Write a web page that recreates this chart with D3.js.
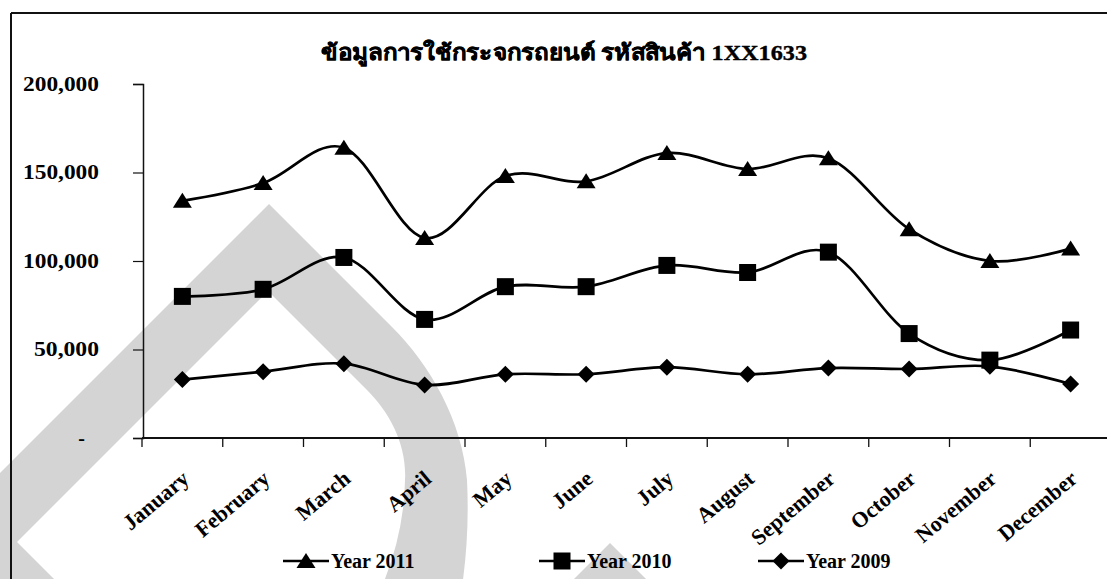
<!DOCTYPE html>
<html>
<head>
<meta charset="utf-8">
<script src="https://cdn.jsdelivr.net/npm/d3@7"></script>
<style>
  html, body { margin: 0; padding: 0; background: #fff; }
  svg { display: block; }
  text { font-family: "Liberation Serif", "Times New Roman", serif; font-weight: bold; fill: #000; }
</style>
</head>
<body>
<svg id="chart" width="1107" height="579"></svg>
<script>
// Monthly usage of car glass, product code 1XX1633
const months = ["January", "February", "March", "April", "May", "June",
                "July", "August", "September", "October", "November", "December"];
const year2011 = [134000, 144000, 164000, 113000, 148000, 145000, 161000, 152000, 158000, 118000, 100000, 107000];
const year2010 = [80000, 84000, 102000, 67000, 85500, 85500, 97500, 93500, 105000, 59000, 44000, 61000];
const year2009 = [33000, 37500, 42000, 30000, 36000, 36000, 40000, 36000, 39500, 39000, 40500, 30500];
const yTicks = [0, 50000, 100000, 150000, 200000];
const seriesNames = ["Year 2011", "Year 2010", "Year 2009"];
const titleText = "ข้อมูลการใช้กระจกรถยนต์ รหัสสินค้า 1XX1633";

const svg = d3.select("#chart");
const W = 1107, H = 579;

// light grey emblem in the background
const bg = svg.append("g").attr("fill", "#d4d4d4");
bg.append("path").attr("d",
  "M -60 533 L 269 204 L 392 327 C 430 365 462 420 467 480 Q 470 540 460 600 L 376 600 " +
  "Q 404 540 405 480 C 407 445 390 413 367 390 L 268 291 L 17 542 L 75 600 L -60 600 Z");
bg.append("path").attr("d", "M 610 543 L 650 583 L 570 583 Z");

// outer frame
svg.append("line").attr("x1", 11).attr("x2", W).attr("y1", 13).attr("y2", 13)
  .attr("stroke", "#111").attr("stroke-width", 2);
svg.append("line").attr("x1", 11).attr("x2", 11).attr("y1", 13).attr("y2", H)
  .attr("stroke", "#111").attr("stroke-width", 2);

// scales
const x = d3.scaleBand().domain(months).range([142, 1111]).padding(0);
const y = d3.scaleLinear().domain([0, 200000]).range([438, 84]);
const cx = m => x(m) + x.bandwidth() / 2;

// title
svg.append("text").attr("x", 564).attr("y", 60).attr("text-anchor", "middle")
  .attr("font-size", 22).attr("textLength", 486).attr("lengthAdjust", "spacingAndGlyphs")
  .attr("stroke", "#000").attr("stroke-width", 0.4)
  .text(titleText);

// y axis
const yAxis = d3.axisLeft(y).tickValues(yTicks).tickSize(10).tickPadding(34)
  .tickFormat(v => v === 0 ? "-" : d3.format(",")(v));
const yg = svg.append("g").attr("transform", "translate(143,0)").call(yAxis);
yg.select(".domain").attr("stroke", "#111").attr("stroke-width", 1.5);
yg.selectAll(".tick line").attr("stroke", "#111").attr("stroke-width", 1.2);
yg.selectAll(".tick text").attr("font-size", 20).attr("font-family", null).attr("fill", "#000")
  .each(function (v) {
    const t = d3.select(this);
    if (v === 0) {
      t.attr("dx", -14);
    } else {
      t.attr("textLength", v < 100000 ? 65 : 76).attr("lengthAdjust", "spacingAndGlyphs");
    }
  });

// x axis: line with tick marks at category boundaries
const xg = svg.append("g");
xg.append("line").attr("x1", 142).attr("x2", W).attr("y1", 438).attr("y2", 438)
  .attr("stroke", "#111").attr("stroke-width", 2);
const boundaries = months.map(m => x(m));
xg.selectAll("line.tk").data(boundaries).join("line").attr("class", "tk")
  .attr("x1", d => d).attr("x2", d => d).attr("y1", 438).attr("y2", 447)
  .attr("stroke", "#111").attr("stroke-width", 1.3);
xg.selectAll("text").data(months).join("text")
  .attr("text-anchor", "end").attr("font-size", 22)
  .attr("transform", m => `translate(${cx(m) + 8},481) rotate(-40)`)
  .text(m => m);

// series
const markers = {
  triangle: g => g.append("path").attr("d", "M 0 -8 L 9.5 7 L -9.5 7 Z"),
  square: g => g.append("rect").attr("x", -8.5).attr("y", -8.5).attr("width", 17).attr("height", 17),
  diamond: g => g.append("path").attr("d", "M 0 -8.5 L 8.5 0 L 0 8.5 L -8.5 0 Z")
};
const series = [
  { name: seriesNames[0], values: year2011, marker: "triangle" },
  { name: seriesNames[1], values: year2010, marker: "square" },
  { name: seriesNames[2], values: year2009, marker: "diamond" }
];
const line = d3.line().x((d, i) => cx(months[i])).y(d => y(d)).curve(d3.curveCatmullRom.alpha(0));

const plot = svg.append("g");
series.forEach(s => {
  plot.append("path").attr("d", line(s.values)).attr("fill", "none")
    .attr("stroke", "#000").attr("stroke-width", 2.7);
  s.values.forEach((v, i) => {
    const g = plot.append("g").attr("transform", `translate(${cx(months[i])},${y(v)})`).attr("fill", "#000");
    markers[s.marker](g);
  });
});

// legend
const legendX = [283, 539, 758];
const legend = svg.append("g");
series.forEach((s, i) => {
  const lx = legendX[i], ly = 561;
  legend.append("line").attr("x1", lx).attr("x2", lx + 46).attr("y1", ly).attr("y2", ly)
    .attr("stroke", "#000").attr("stroke-width", 2.7);
  const g = legend.append("g").attr("transform", `translate(${lx + 23},${ly})`).attr("fill", "#000");
  markers[s.marker](g);
  legend.append("text").attr("x", lx + 48).attr("y", ly + 7).attr("font-size", 20).text(s.name);
});
</script>
</body>
</html>
